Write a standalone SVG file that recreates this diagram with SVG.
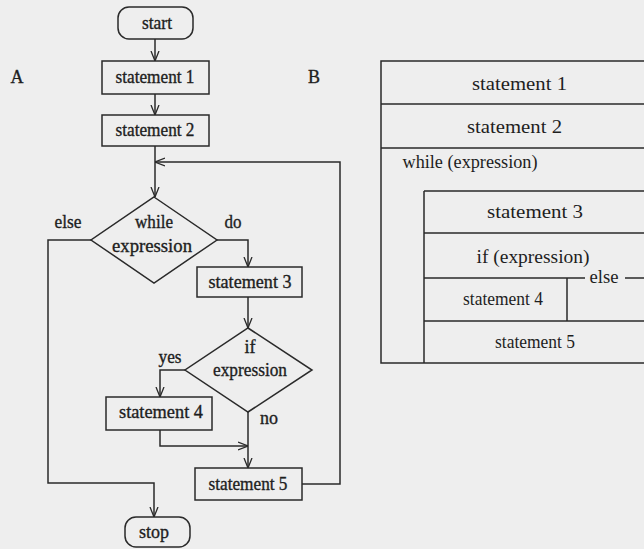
<svg xmlns="http://www.w3.org/2000/svg" width="644" height="549" viewBox="0 0 644 549">
  <style>
    .bg { fill: #eeeeee; }
    .box { fill: none; stroke: #2a2a2a; stroke-width: 1.5; }
    .ln { fill: none; stroke: #2a2a2a; stroke-width: 1.5; }
    .ta { font-family: "Liberation Serif", "Times New Roman", serif; font-size: 18px; fill: #1e1e1e; stroke: #1e1e1e; stroke-width: 0.35; text-anchor: middle; }
    .tb { font-family: "Liberation Serif", "Times New Roman", serif; font-size: 19px; fill: #1e1e1e; text-anchor: middle; }
  </style>
  <defs>
    <marker id="arrow" viewBox="0 0 10 10" refX="10" refY="5" markerWidth="10" markerHeight="10" markerUnits="userSpaceOnUse" orient="auto">
      <path d="M0,1 L10,5 L0,9" fill="none" stroke="#2a2a2a" stroke-width="1.3"/>
    </marker>
  </defs>

  <rect class="bg" x="0" y="0" width="644" height="549"/>

  <!-- Panel labels -->
  <text class="ta" x="17" y="83">A</text>
  <text class="ta" x="314" y="83">B</text>

  <!-- Flowchart A: connectors -->
  <g id="connectors" class="ln">
    <path d="M155,39 V61" marker-end="url(#arrow)"/>
    <path d="M155,94 V115" marker-end="url(#arrow)"/>
    <path d="M155,146 V197" marker-end="url(#arrow)"/>
    <path d="M302,484 H340 V162 H155" marker-end="url(#arrow)"/>
    <path d="M91,240 H48 V483 H154 V517" marker-end="url(#arrow)"/>
    <path d="M217,240 H248 V267" marker-end="url(#arrow)"/>
    <path d="M248,297 V328" marker-end="url(#arrow)"/>
    <path d="M185,370 H160 V397" marker-end="url(#arrow)"/>
    <path d="M160,430 V446 H248" marker-end="url(#arrow)"/>
    <path d="M248,412 V468" marker-end="url(#arrow)"/>
  </g>

  <!-- Flowchart A: nodes -->
  <g id="start">
    <rect class="box" x="118" y="7" width="75" height="32" rx="11"/>
    <text class="ta" x="157" y="29" textLength="30" lengthAdjust="spacingAndGlyphs">start</text>
  </g>
  <g id="statement1">
    <rect class="box" x="102" y="61" width="107" height="33"/>
    <text class="ta" x="155" y="83" textLength="79" lengthAdjust="spacingAndGlyphs">statement 1</text>
  </g>
  <g id="statement2">
    <rect class="box" x="102" y="115" width="107" height="31"/>
    <text class="ta" x="155" y="136" textLength="79" lengthAdjust="spacingAndGlyphs">statement 2</text>
  </g>
  <g id="while">
    <path class="box" d="M154,197 L217,240 L154,283 L91,240 Z"/>
    <text class="ta" x="154" y="228" textLength="38" lengthAdjust="spacingAndGlyphs">while</text>
    <text class="ta" x="152" y="252" textLength="80" lengthAdjust="spacingAndGlyphs">expression</text>
    <text class="ta" x="68" y="228" textLength="27" lengthAdjust="spacingAndGlyphs">else</text>
    <text class="ta" x="233" y="228" textLength="17" lengthAdjust="spacingAndGlyphs">do</text>
  </g>
  <g id="statement3">
    <rect class="box" x="197" y="267" width="105" height="30"/>
    <text class="ta" x="250" y="288" textLength="83" lengthAdjust="spacingAndGlyphs">statement 3</text>
  </g>
  <g id="if">
    <path class="box" d="M248,328 L312,370 L248,412 L185,370 Z"/>
    <text class="ta" x="250" y="353" textLength="11" lengthAdjust="spacingAndGlyphs">if</text>
    <text class="ta" x="250" y="376" textLength="74" lengthAdjust="spacingAndGlyphs">expression</text>
    <text class="ta" x="170" y="363" textLength="23" lengthAdjust="spacingAndGlyphs">yes</text>
    <text class="ta" x="269" y="424" textLength="18" lengthAdjust="spacingAndGlyphs">no</text>
  </g>
  <g id="statement4">
    <rect class="box" x="106" y="397" width="106" height="33"/>
    <text class="ta" x="161" y="418" textLength="84" lengthAdjust="spacingAndGlyphs">statement 4</text>
  </g>
  <g id="statement5">
    <rect class="box" x="195" y="468" width="107" height="32"/>
    <text class="ta" x="248" y="490" textLength="79" lengthAdjust="spacingAndGlyphs">statement 5</text>
  </g>
  <g id="stop">
    <rect class="box" x="125" y="517" width="65" height="30" rx="11"/>
    <text class="ta" x="154" y="538" textLength="30" lengthAdjust="spacingAndGlyphs">stop</text>
  </g>

  <!-- Structogram B -->
  <g id="structogram">
    <path class="ln" d="M644,61 H381 V363 H644"/>
    <path class="ln" d="M381,104 H644 M381,148 H644"/>
    <path class="ln" d="M424,191 H644 M424,191 V363 M424,233 H644"/>
    <path class="ln" d="M424,278 H585 M625,278 H644 M567,278 V321 M424,321 H644"/>
    <text class="tb" x="519.5" y="90" textLength="95" lengthAdjust="spacingAndGlyphs">statement 1</text>
    <text class="tb" x="514.5" y="133" textLength="95" lengthAdjust="spacingAndGlyphs">statement 2</text>
    <text class="tb" x="470" y="168" textLength="135" lengthAdjust="spacingAndGlyphs">while (expression)</text>
    <text class="tb" x="535" y="218" textLength="96" lengthAdjust="spacingAndGlyphs">statement 3</text>
    <text class="tb" x="533" y="263" textLength="113" lengthAdjust="spacingAndGlyphs">if (expression)</text>
    <text class="tb" x="604" y="283" textLength="29" lengthAdjust="spacingAndGlyphs">else</text>
    <text class="tb" x="503" y="305" textLength="80" lengthAdjust="spacingAndGlyphs">statement 4</text>
    <text class="tb" x="535" y="348" textLength="80" lengthAdjust="spacingAndGlyphs">statement 5</text>
  </g>
</svg>
